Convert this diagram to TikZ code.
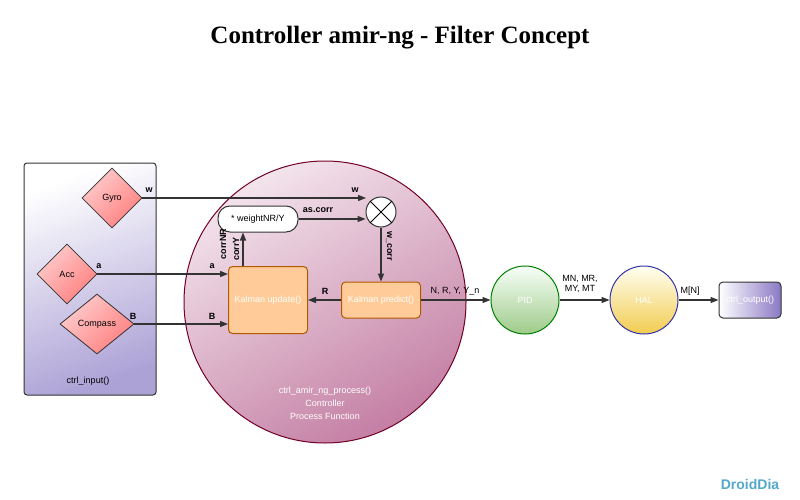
\documentclass[tikz,border=0pt]{standalone}
\usepackage{fontspec}
\setmainfont{Liberation Sans}
\newfontfamily\titlefont{Liberation Serif}
\usetikzlibrary{arrows.meta,shapes.geometric}

\definecolor{procdark}{HTML}{C47FA4}
\definecolor{proclight}{HTML}{F3E4EC}
\definecolor{inputdark}{HTML}{ADA2D6}
\definecolor{piddark}{HTML}{9ECB8A}
\definecolor{haldark}{HTML}{F2CC50}
\definecolor{outdark}{HTML}{8A78C4}

\tikzset{
  flow/.style={draw=black!80,line width=1.2pt,-{Triangle[length=8pt,width=6pt]}},
  lbl/.style={font=\fontsize{9}{10}\selectfont\bfseries,inner sep=1pt},
  sensor/.style={diamond,draw=black!80,line width=0.8pt,top color=red!20,bottom color=red!50!white,shading angle=45,minimum width=60pt,minimum height=60pt,inner sep=0pt,font=\fontsize{9}{10}\selectfont},
  kalman/.style={draw=orange!70!black,line width=1pt,fill=orange!40,rounded corners=4pt,text=white,font=\fontsize{9}{10}\selectfont},
  stage/.style={circle,minimum size=68pt,line width=1pt,shading angle=45,text=white,font=\fontsize{9}{10}\selectfont}
}

\begin{document}
\begin{tikzpicture}[x=1pt,y=-1pt]
        \useasboundingbox (0,0) rectangle (800,500);

        \node[font=\titlefont\fontsize{25}{28}\selectfont\bfseries] (title) at (400,38) {Controller amir-ng - Filter Concept};

        % input block and process circle
        \draw[rounded corners=3pt,line width=1pt,draw=black!80,top color=white,bottom color=inputdark,shading angle=20] (24,163) rectangle (156,395);
        \node[font=\fontsize{9}{10}\selectfont] (inlabel) at (88,381) {ctrl\_input()};
        \draw[line width=1pt,draw=purple!60!black,top color=proclight,bottom color=procdark,shading angle=30] (325,302) circle (141);
        \node[text=white,align=center,font=\fontsize{9}{13}\selectfont] (proclabel) at (325,403) {ctrl\_amir\_ng\_process()\\Controller\\Process Function};

        % sensors
        \node[sensor] (gyro) at (112,198) {Gyro};
        \node[sensor] (acc) at (67,274) {Acc};
        \node[sensor,minimum width=74pt] (compass) at (97,324) {Compass};

        % filter
        \node[draw=black!80,line width=1pt,fill=white,rounded corners=12pt,minimum width=80pt,minimum height=26pt,font=\fontsize{9}{10}\selectfont] (weight) at (258,219) {* weightNR/Y};
        \node[circle,draw=black!80,line width=1pt,fill=white,minimum size=30pt] (mix) at (381,212) {};
        \draw[line width=1pt] (mix.45) -- (mix.225) (mix.135) -- (mix.315);
        \node[kalman,minimum width=79pt,minimum height=67pt] (update) at (268,300) {Kalman update()};
        \node[kalman,minimum width=79pt,minimum height=36pt] (predict) at (381,300) {Kalman predict()};

        % output chain
        \node[stage,draw=green!50!black,top color=green!3,bottom color=piddark] (pid) at (525,300) {PID};
        \node[stage,draw=blue!60!black!80,top color=yellow!5,bottom color=haldark] (hal) at (644,300) {HAL};
        \node[draw=black!80,line width=1pt,rounded corners=4pt,minimum width=62pt,minimum height=36pt,left color=white,right color=outdark,text=white,font=\fontsize{9}{10}\selectfont] (output) at (750,300) {ctrl\_output()};

        \coordinate (gyroend) at (366,198);
        \draw[flow] (gyro.east) -- (gyroend);
        \node[lbl] at (149,190) {w};
        \node[lbl] at (355,190) {w};
        \draw[flow] (weight.east) -- (mix.west |- weight.east);
        \node[lbl] at (318,210) {as.corr};
        \draw[flow] (acc.east) -- (update.west |- acc.east);
        \node[lbl] at (99,266) {a};
        \node[lbl] at (212,266) {a};
        \draw[flow] (compass.east) -- (update.west |- compass.east);
        \node[lbl] at (133,316) {B};
        \node[lbl] at (212,316) {B};
        \draw[flow] (mix.south) -- (predict.north);
        \node[lbl,rotate=-90] at (389,246) {w\_corr};
        \draw[flow] (update.north -| 243,0) -- (weight.south -| 243,0);
        \node[lbl,rotate=90] at (223,244) {corrNR};
        \node[lbl,rotate=90] at (236,249) {corrY};
        \draw[flow] (predict.west) -- (update.east);
        \node[lbl] at (325,291) {R};
        \draw[flow] (predict.east) -- (pid.west);
        \node[lbl,font=\fontsize{9}{10}\selectfont] at (455,291) {N, R, Y, Y\_n};
        \draw[flow] (pid.east) -- (hal.west);
        \node[lbl,align=center,font=\fontsize{9}{10}\selectfont] at (580,284) {MN, MR,\\MY, MT};
        \draw[flow] (hal.east) -- (output.west);
        \node[lbl,font=\fontsize{9}{10}\selectfont] at (690,291) {M[N]};

        \node[text=cyan!60!gray,font=\fontsize{14}{16}\selectfont\bfseries] (logo) at (750,484) {DroidDia};
\end{tikzpicture}
\end{document}
